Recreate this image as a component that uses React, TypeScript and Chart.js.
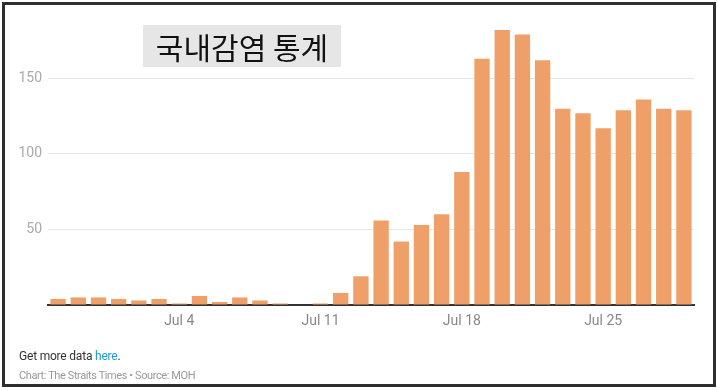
import React, { useEffect, useRef } from "react";
import { Chart, registerables } from "chart.js";

Chart.register(...registerables);

const dates: string[] = [
  "Jun 28", "Jun 29", "Jun 30", "Jul 1", "Jul 2", "Jul 3", "Jul 4", "Jul 5",
  "Jul 6", "Jul 7", "Jul 8", "Jul 9", "Jul 10", "Jul 11", "Jul 12", "Jul 13",
  "Jul 14", "Jul 15", "Jul 16", "Jul 17", "Jul 18", "Jul 19", "Jul 20", "Jul 21",
  "Jul 22", "Jul 23", "Jul 24", "Jul 25", "Jul 26", "Jul 27", "Jul 28", "Jul 29",
];
const localCases: number[] = [
  4, 5, 5, 4, 3, 4, 1, 6,
  2, 5, 3, 1, 0, 1, 8, 19,
  56, 42, 53, 60, 88, 163, 182, 179,
  162, 130, 127, 117, 129, 136, 130, 129,
];
const shownXTicks: string[] = ["Jul 4", "Jul 11", "Jul 18", "Jul 25"];
const yTicks: number[] = [50, 100, 150];

export default function App() {
  const ref = useRef<HTMLCanvasElement | null>(null);

  useEffect(() => {
    document.body.style.margin = "0";
    const canvas = ref.current;
    if (!canvas) return;
    const chart = new Chart(canvas, {
      type: "bar",
      data: {
        labels: dates,
        datasets: [
          {
            data: localCases,
            backgroundColor: "#efa068",
            categoryPercentage: 1,
            barPercentage: 0.76,
          },
        ],
      },
      options: {
        responsive: false,
        animation: false,
        layout: { padding: { left: 8, right: 24, top: 18, bottom: 56 } },
        plugins: { legend: { display: false }, tooltip: { enabled: false } },
        scales: {
          x: {
            grid: { display: false, drawTicks: false },
            border: { display: true, color: "#333333", width: 2 },
            afterFit: (s: any) => {
              s.height = 30;
            },
            ticks: {
              autoSkip: false,
              maxRotation: 0,
              padding: 8,
              color: "#888888",
              font: { family: "Roboto", size: 14 },
              callback: function (this: any, v: any, i: number) {
                const l = dates[i];
                return shownXTicks.includes(l) ? l : "";
              },
            },
          },
          y: {
            min: 0,
            max: 190,
            afterFit: (s: any) => {
              s.width = 40;
            },
            afterBuildTicks: (s: any) => {
              s.ticks = [0, ...yTicks].map((v) => ({ value: v }));
            },
            grid: { color: "#e6e6e6", drawTicks: false, lineWidth: 1 },
            border: { display: false },
            ticks: {
              padding: 6,
              color: "#aaaaaa",
              font: { family: "Roboto", size: 14 },
              callback: (v: any) => (v === 0 ? "" : String(v)),
            },
          },
        },
      },
    });
    return () => chart.destroy();
  }, []);

  return (
    <div style={{ position: "relative", width: 718, height: 391, background: "#fff", overflow: "hidden" }}>
      <div
        style={{
          position: "absolute",
          left: 2,
          top: 2,
          width: 714,
          height: 385,
          boxSizing: "border-box",
          border: "3px solid #2e2e2e",
        }}
      />
      <canvas ref={ref} width={718} height={391} style={{ position: "absolute", left: 0, top: 0, width: 718, height: 391 }} />
      <div
        style={{
          position: "absolute",
          left: 143,
          top: 25,
          width: 198,
          height: 42,
          background: "#e6e6e6",
          display: "flex",
          alignItems: "center",
          justifyContent: "center",
          fontFamily: "'Noto Sans CJK KR', sans-serif",
          fontSize: 30,
          color: "#111",
          lineHeight: 1,
        }}
      >
        국내감염 통계
      </div>
      <div
        style={{
          position: "absolute",
          left: 19,
          top: 349,
          fontFamily: "Roboto, sans-serif",
          fontSize: 12,
          color: "#333",
          whiteSpace: "nowrap",
          letterSpacing: -0.2,
        }}
      >
        Get more data <span style={{ color: "#1a9bd7" }}>here</span>.
      </div>
      <div
        style={{
          position: "absolute",
          left: 19,
          top: 369,
          fontFamily: "Roboto, sans-serif",
          fontSize: 11,
          color: "#999",
          whiteSpace: "nowrap",
          letterSpacing: -0.4,
        }}
      >
        Chart: The Straits Times • Source: MOH
      </div>
    </div>
  );
}
